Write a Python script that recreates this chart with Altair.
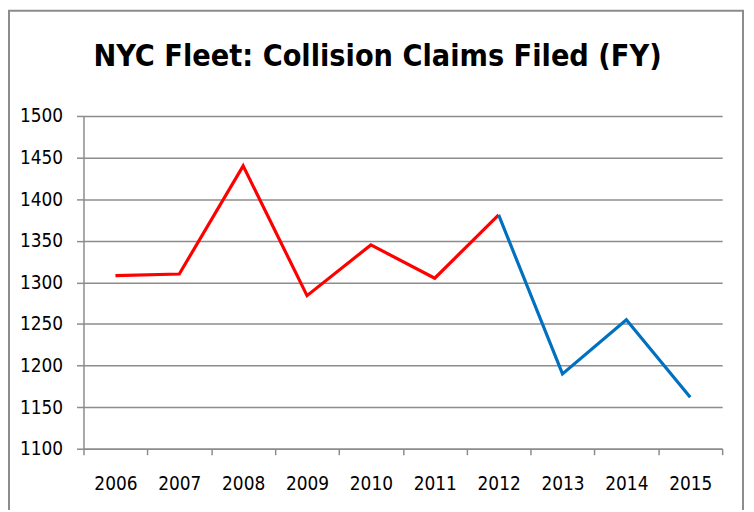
import altair as alt
import pandas as pd

years = ["2006", "2007", "2008", "2009", "2010", "2011", "2012", "2013", "2014", "2015"]
claims = [1308, 1310, 1440, 1284, 1345, 1305, 1381, 1190, 1255, 1162]
red_years = years[:7]
blue_years = years[6:]
title_text = "NYC Fleet: Collision Claims Filed (FY)"

rows = []
for y, v in zip(years, claims):
    if y in red_years:
        rows.append({"year": y, "claims": v, "seg": "red"})
    if y in blue_years:
        rows.append({"year": y, "claims": v, "seg": "blue"})
df = pd.DataFrame(rows)

FONT = "Liberation Sans Narrow, DejaVu Sans Condensed, sans-serif"
GRAY = "#8c8c8c"

frame = alt.Chart(pd.DataFrame({"k": [0]})).mark_rect(
    fill=None, fillOpacity=0, stroke=GRAY, strokeWidth=2
).encode(
    x=alt.value(-75), x2=alt.value(664), y=alt.value(-106), y2=alt.value(420)
)

title = alt.Chart(pd.DataFrame({"t": [title_text]})).mark_text(
    font=FONT, fontSize=30.5, fontWeight="bold", color="black",
    align="center", baseline="alphabetic"
).encode(text="t:N", x=alt.value(296), y=alt.value(-50))

lines = alt.Chart(df).mark_line(strokeWidth=3.2).encode(
    x=alt.X("year:O", sort=years,
            scale=alt.Scale(type="band", paddingInner=0, paddingOuter=0),
            axis=alt.Axis(title=None, labelAngle=0, tickBand="extent", grid=False,
                          domainColor=GRAY, domainWidth=1.5, tickColor=GRAY,
                          tickWidth=1.5, tickSize=6, labelFontSize=19,
                          labelFont=FONT, labelColor="black", labelPadding=20)),
    y=alt.Y("claims:Q", scale=alt.Scale(domain=[1100, 1500], nice=False, zero=False),
            axis=alt.Axis(title=None, values=list(range(1100, 1501, 50)), format="d",
                          grid=True, gridColor=GRAY, gridWidth=1.5,
                          domainColor=GRAY, domainWidth=1.5, tickColor=GRAY,
                          tickWidth=1.5, tickSize=7, labelFontSize=19,
                          labelFont=FONT, labelColor="black", labelPadding=14)),
    color=alt.Color("seg:N", scale=alt.Scale(domain=["red", "blue"],
                                             range=["#ff0000", "#0070c0"]),
                    legend=None),
    detail="seg:N",
)

chart = alt.layer(frame, title, lines).properties(
    width=643, height=335,
    autosize=alt.AutoSizeParams(type="none"),
    padding={"left": 76, "top": 107, "right": 24, "bottom": 60},
).configure_view(stroke=None)

chart.save("out.html", embed_options={"renderer": "svg", "actions": False})
